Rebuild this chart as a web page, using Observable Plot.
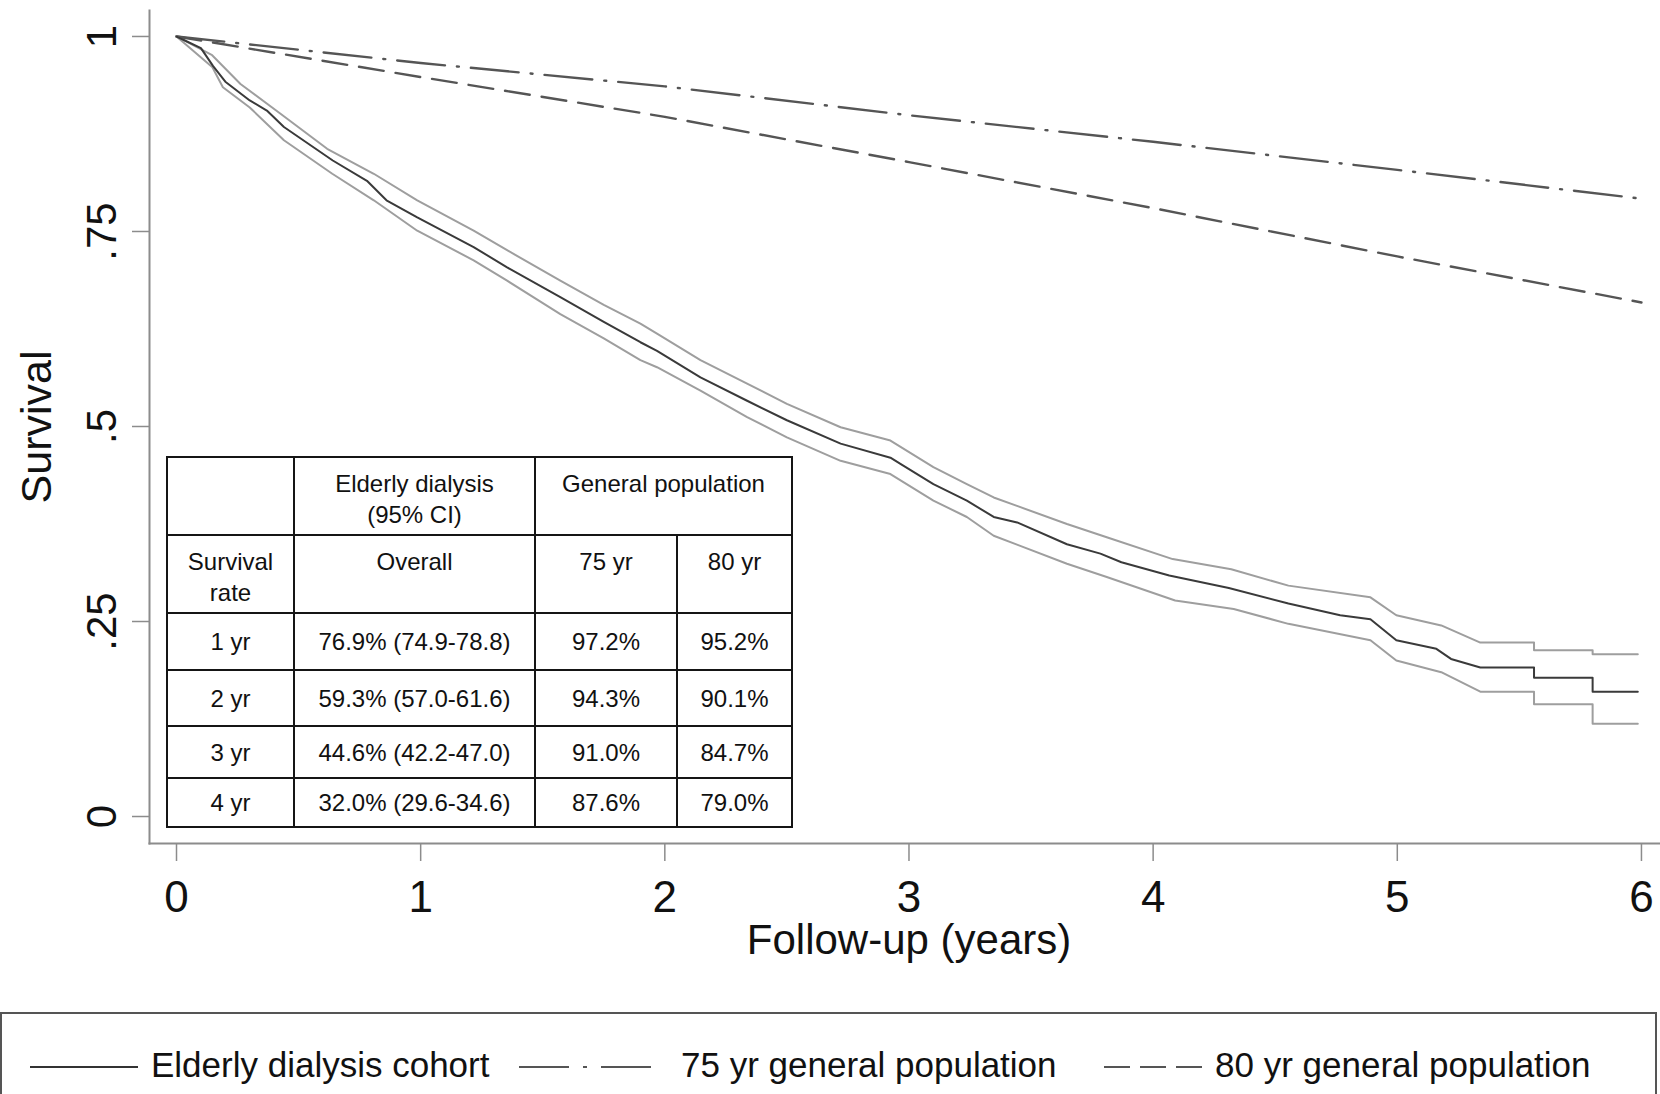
<!DOCTYPE html>
<html>
<head>
<meta charset="utf-8">
<script src="https://cdn.jsdelivr.net/npm/d3@7"></script>
<script src="https://cdn.jsdelivr.net/npm/@observablehq/plot@0.6"></script>
<style>
  html, body { margin: 0; padding: 0; background: #fff; }
  #wrap { position: relative; width: 1660px; height: 1094px; overflow: hidden; font-family: "Liberation Sans", Arial, sans-serif; }
  #chart { position: absolute; left: 0; top: 0; }
  table.t { position: absolute; left: 166px; top: 456px; border-collapse: collapse; table-layout: fixed; width: 625px;
            font-size: 24px; color: #111; background: #fff; }
  table.t td { border: 2.5px solid #151515; text-align: center; padding: 0; line-height: 31px; }
  table.t tr.h td { vertical-align: top; padding-top: 10px; }
  table.t tr.d td { vertical-align: middle; }
  #legend { position: absolute; left: 0; top: 1012px; }
</style>
</head>
<body>
<div id="wrap">
  <div id="chart"></div>
</div>
<script>
// ---------- data ----------
// Kaplan-Meier survival, elderly dialysis cohort (years, survival)
const kmTime  = [0, 0.10, 0.15, 0.20, 0.30, 0.37, 0.44, 0.64, 0.78, 0.86, 0.986, 1.217, 1.354, 1.572, 1.75, 1.90, 1.968, 2.146, 2.337, 2.50, 2.72, 2.924, 2.965, 3.10, 3.237, 3.347, 3.443, 3.647, 3.784, 3.87, 4.066, 4.31, 4.554, 4.766, 4.89, 4.996, 5.16, 5.22, 5.34, 5.56, 5.56, 5.80, 5.80, 5.985];
const kmSurv  = [1.0, 0.985, 0.962, 0.942, 0.918, 0.905, 0.884, 0.841, 0.815, 0.790, 0.768, 0.730, 0.704, 0.666, 0.634, 0.608, 0.597, 0.563, 0.533, 0.508, 0.478, 0.460, 0.452, 0.426, 0.405, 0.384, 0.377, 0.349, 0.337, 0.326, 0.309, 0.293, 0.273, 0.258, 0.253, 0.226, 0.215, 0.202, 0.191, 0.191, 0.178, 0.178, 0.160, 0.160];
// upper 95% CI
const upTime  = [0, 0.146, 0.262, 0.426, 0.617, 0.808, 0.986, 1.217, 1.354, 1.572, 1.75, 1.90, 1.968, 2.146, 2.337, 2.50, 2.72, 2.924, 3.10, 3.237, 3.347, 3.647, 3.81, 4.08, 4.32, 4.554, 4.89, 4.996, 5.18, 5.34, 5.56, 5.56, 5.80, 5.80, 5.985];
const upSurv  = [1.0, 0.976, 0.939, 0.901, 0.856, 0.824, 0.790, 0.751, 0.726, 0.687, 0.656, 0.632, 0.619, 0.585, 0.555, 0.529, 0.499, 0.482, 0.448, 0.426, 0.409, 0.375, 0.358, 0.330, 0.317, 0.296, 0.281, 0.258, 0.245, 0.223, 0.223, 0.213, 0.213, 0.208, 0.208];
// lower 95% CI
const loTime  = [0, 0.146, 0.19, 0.30, 0.44, 0.638, 0.808, 0.986, 1.217, 1.354, 1.572, 1.75, 1.90, 1.968, 2.146, 2.337, 2.50, 2.72, 2.924, 3.10, 3.237, 3.347, 3.647, 3.81, 4.09, 4.33, 4.554, 4.89, 4.996, 5.18, 5.34, 5.56, 5.56, 5.80, 5.80, 5.985];
const loSurv  = [1.0, 0.961, 0.935, 0.909, 0.867, 0.824, 0.790, 0.751, 0.713, 0.687, 0.644, 0.613, 0.585, 0.576, 0.546, 0.512, 0.486, 0.456, 0.439, 0.405, 0.384, 0.360, 0.324, 0.307, 0.277, 0.266, 0.247, 0.226, 0.200, 0.185, 0.160, 0.160, 0.144, 0.144, 0.119, 0.119];
// general population expected survival
const popTime = [0, 1, 2, 3, 4, 5, 6];
const pop75   = [1.0, 0.966, 0.936, 0.899, 0.865, 0.829, 0.792];
const pop80   = [1.0, 0.948, 0.897, 0.839, 0.780, 0.718, 0.659];

// axis ticks
const xTicks = [0, 1, 2, 3, 4, 5, 6];
const yTicks = [0, 0.25, 0.5, 0.75, 1];
const yTickLabels = ["0", ".25", ".5", ".75", "1"];

// inset table
const tblYears   = ["1 yr", "2 yr", "3 yr", "4 yr"];
const tblDialysis = ["76.9% (74.9-78.8)", "59.3% (57.0-61.6)", "44.6% (42.2-47.0)", "32.0% (29.6-34.6)"];
const tbl75      = ["97.2%", "94.3%", "91.0%", "87.6%"];
const tbl80      = ["95.2%", "90.1%", "84.7%", "79.0%"];

// legend
const legendLabels = ["Elderly dialysis cohort", "75 yr general population", "80 yr general population"];

// ---------- build ----------
const zip = (t, s) => t.map((d, i) => ({t: d, s: s[i]}));
const km = zip(kmTime, kmSurv), up = zip(upTime, upSurv), lo = zip(loTime, loSurv);
const p75 = zip(popTime, pop75), p80 = zip(popTime, pop80);

const H = 1000;
const axisCol = "#8c8c8c";
const chart = Plot.plot({
  width: 1660, height: H,
  marginLeft: 149, marginRight: 0, marginTop: 10, marginBottom: H - 843,
  style: {fontFamily: "'Liberation Sans', Arial, sans-serif", fontSize: "42px", color: "#111", background: "#fff", overflow: "visible"},
  x: {domain: [-0.1106, 6.078]},
  y: {domain: [-0.0346, 1.0333]},
  marks: [
    Plot.frame({anchor: "left", stroke: axisCol, strokeWidth: 2}),
    Plot.frame({anchor: "bottom", stroke: axisCol, strokeWidth: 2}),
    Plot.axisX({ticks: xTicks, tickSize: 18, tickPadding: 19, stroke: axisCol, strokeWidth: 1.5, fill: "#111", fontSize: 44,
                tickFormat: d => String(d), label: null}),
    Plot.axisY({ticks: yTicks, tickSize: 17, tickPadding: 17, tickRotate: -90, stroke: axisCol, strokeWidth: 1.5, fill: "#111",
                tickFormat: d => yTickLabels[yTicks.indexOf(d)], label: null}),
    Plot.text(["Survival"], {text: d => d, frameAnchor: "left", dx: -99, rotate: -90, lineAnchor: "bottom", textAnchor: "middle", fontSize: 43, fill: "#111"}),
    Plot.text(["Follow-up (years)"], {text: d => d, frameAnchor: "bottom", dx: 4, dy: 110, lineAnchor: "bottom", textAnchor: "middle", fontSize: 42, fill: "#111"}),
    Plot.line(p75, {x: "t", y: "s", stroke: "#555", strokeWidth: 2.4, strokeDasharray: "48,12,2,12"}),
    Plot.line(p80, {x: "t", y: "s", stroke: "#555", strokeWidth: 2.4, strokeDasharray: "25,12"}),
    Plot.line(up, {x: "t", y: "s", stroke: "#9e9e9e", strokeWidth: 2}),
    Plot.line(lo, {x: "t", y: "s", stroke: "#9e9e9e", strokeWidth: 2}),
    Plot.line(km, {x: "t", y: "s", stroke: "#3a3a3a", strokeWidth: 2})
  ]
});
document.getElementById("chart").appendChild(chart);

// inset table
const wrap = document.getElementById("wrap");
const table = document.createElement("table");
table.className = "t";
let html = '<colgroup><col style="width:127px"><col style="width:241px"><col style="width:142px"><col style="width:115px"></colgroup>';
html += '<tr class="h" style="height:78px"><td></td><td>Elderly dialysis<br>(95% CI)</td><td colspan="2">General population</td></tr>';
html += '<tr class="h" style="height:78px"><td>Survival<br>rate</td><td>Overall</td><td>75 yr</td><td>80 yr</td></tr>';
const rowH = [57, 56, 52, 49];
tblYears.forEach((y, i) => {
  html += `<tr class="d" style="height:${rowH[i]}px"><td>${y}</td><td>${tblDialysis[i]}</td><td>${tbl75[i]}</td><td>${tbl80[i]}</td></tr>`;
});
table.innerHTML = html;
wrap.appendChild(table);

// legend box
const ns = "http://www.w3.org/2000/svg";
const lg = document.createElementNS(ns, "svg");
lg.setAttribute("id", "legend");
lg.setAttribute("width", 1660);
lg.setAttribute("height", 82);
lg.style.fontFamily = "'Liberation Sans', Arial, sans-serif";
const rect = document.createElementNS(ns, "rect");
rect.setAttribute("x", 1); rect.setAttribute("y", 1); rect.setAttribute("width", 1655); rect.setAttribute("height", 140);
rect.setAttribute("fill", "none"); rect.setAttribute("stroke", "#555"); rect.setAttribute("stroke-width", 2);
lg.appendChild(rect);
const items = [
  {x1: 30, x2: 138, tx: 151, stroke: "#333", dash: null},
  {x1: 519, x2: 651, tx: 681, stroke: "#555", dash: "50,14,4,14"},
  {x1: 1104, x2: 1202, tx: 1215, stroke: "#555", dash: "26,10"}
];
items.forEach((it, i) => {
  const l = document.createElementNS(ns, "line");
  l.setAttribute("x1", it.x1); l.setAttribute("x2", it.x2); l.setAttribute("y1", 55); l.setAttribute("y2", 55);
  l.setAttribute("stroke", it.stroke); l.setAttribute("stroke-width", 2);
  if (it.dash) l.setAttribute("stroke-dasharray", it.dash);
  lg.appendChild(l);
  const t = document.createElementNS(ns, "text");
  t.setAttribute("x", it.tx); t.setAttribute("y", 65);
  t.setAttribute("font-size", 35); t.setAttribute("fill", "#111");
  t.textContent = legendLabels[i];
  lg.appendChild(t);
});
wrap.appendChild(lg);
</script>
</body>
</html>
